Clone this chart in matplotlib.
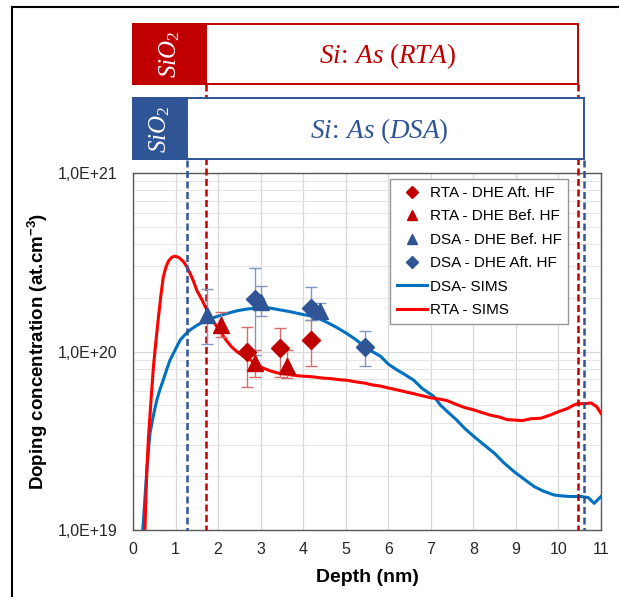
import matplotlib
matplotlib.use("Agg")
import matplotlib.pyplot as plt
from matplotlib.lines import Line2D
from matplotlib.patches import Rectangle
from matplotlib.ticker import FixedLocator, LogLocator, NullFormatter
import matplotlib.transforms as mtransforms

plt.rcParams['font.family'] = ['Liberation Sans', 'DejaVu Sans']
plt.rcParams['mathtext.fontset'] = 'custom'
plt.rcParams['mathtext.rm'] = 'Liberation Serif'
plt.rcParams['mathtext.it'] = 'Liberation Serif:italic'
plt.rcParams['mathtext.bf'] = 'Liberation Sans:bold'

# SIMS profiles (depth in nm, concentration in at/cm3)
rta_sims_x = [0.28, 0.32, 0.36, 0.42, 0.48, 0.54, 0.60, 0.66, 0.71, 0.77, 0.83, 0.90, 0.97,
              1.03, 1.10, 1.19, 1.27, 1.34, 1.42, 1.50, 1.62, 1.74, 1.85, 1.97, 2.09, 2.21,
              2.32, 2.44, 2.60, 2.76, 2.92, 3.07, 3.22, 3.38, 3.55, 3.70, 3.90, 4.10, 4.25,
              4.45, 4.65, 4.85, 5.03, 5.25, 5.45, 5.62, 5.82, 6.00, 6.20, 6.40, 6.60, 6.80,
              7.00, 7.23, 7.39, 7.60, 7.80, 8.02, 8.20, 8.40, 8.60, 8.80, 8.96, 9.15, 9.35,
              9.59, 9.80, 10.00, 10.22, 10.35, 10.45, 10.60, 10.77, 10.90, 11.0]
rta_sims_y = [1.0e19, 2.0e19, 3.2e19, 5.2e19, 8.2e19, 1.15e20, 1.57e20, 2.1e20, 2.6e20, 2.95e20,
              3.2e20, 3.35e20, 3.42e20, 3.4e20, 3.33e20, 3.18e20, 2.97e20, 2.74e20, 2.48e20,
              2.2e20, 1.95e20, 1.7e20, 1.52e20, 1.38e20, 1.25e20, 1.14e20, 1.06e20, 1.0e20,
              9.4e19, 8.96e19, 8.4e19, 8.05e19, 7.8e19, 7.6e19, 7.5e19, 7.4e19, 7.3e19,
              7.25e19, 7.2e19, 7.1e19, 7.05e19, 6.95e19, 6.9e19, 6.75e19, 6.65e19, 6.5e19,
              6.4e19, 6.25e19, 6.1e19, 5.95e19, 5.8e19, 5.65e19, 5.5e19, 5.4e19, 5.3e19,
              5.05e19, 4.85e19, 4.7e19, 4.55e19, 4.4e19, 4.3e19, 4.15e19, 4.13e19, 4.1e19,
              4.2e19, 4.23e19, 4.4e19, 4.6e19, 4.8e19, 5.0e19, 5.1e19, 5.1e19, 5.15e19,
              4.9e19, 4.5e19]

dsa_sims_x = [0.23, 0.28, 0.32, 0.36, 0.40, 0.48, 0.56, 0.64, 0.71, 0.79, 0.87, 0.99, 1.11,
              1.22, 1.34, 1.50, 1.66, 1.80, 1.97, 2.20, 2.44, 2.68, 2.91, 3.07, 3.23, 3.46,
              3.70, 3.95, 4.25, 4.50, 4.75, 5.03, 5.25, 5.45, 5.62, 5.82, 6.00, 6.20, 6.40,
              6.60, 6.80, 7.07, 7.23, 7.39, 7.60, 7.80, 8.02, 8.25, 8.49, 8.70, 8.96, 9.20,
              9.43, 9.65, 9.90, 10.10, 10.30, 10.53, 10.70, 10.84, 10.95, 11.0]
dsa_sims_y = [1.0e19, 1.5e19, 2.08e19, 2.75e19, 3.48e19, 4.4e19, 5.35e19, 6.2e19, 6.9e19,
              7.9e19, 8.95e19, 1.02e20, 1.16e20, 1.24e20, 1.32e20, 1.4e20, 1.47e20, 1.52e20,
              1.57e20, 1.63e20, 1.69e20, 1.73e20, 1.75e20, 1.76e20, 1.75e20, 1.71e20, 1.67e20,
              1.62e20, 1.57e20, 1.48e20, 1.38e20, 1.26e20, 1.16e20, 1.06e20, 1.0e20, 9.4e19,
              8.5e19, 7.9e19, 7.4e19, 6.9e19, 6.2e19, 5.6e19, 5.0e19, 4.6e19, 4.15e19, 3.7e19,
              3.33e19, 3.0e19, 2.7e19, 2.4e19, 2.12e19, 1.92e19, 1.75e19, 1.65e19, 1.57e19,
              1.55e19, 1.54e19, 1.54e19, 1.52e19, 1.41e19, 1.5e19, 1.54e19]

# DHE points with error bar ends
rta_aft_x = [2.69, 3.46, 4.19]
rta_aft_y = [1.0e20, 1.05e20, 1.16e20]
rta_aft_lo = [6.3e19, 7.2e19, 8.3e19]
rta_aft_hi = [1.38e20, 1.35e20, 1.5e20]

rta_bef_x = [2.06, 2.87, 3.62]
rta_bef_y = [1.41e20, 8.6e19, 8.3e19]
rta_bef_lo = [1.2e20, 7.2e19, 7.1e19]
rta_bef_hi = [1.66e20, 1.02e20, 1.02e20]

dsa_bef_x = [1.74, 3.01, 4.39]
dsa_bef_y = [1.6e20, 1.9e20, 1.69e20]
dsa_bef_lo = [1.1e20, 1.58e20, 1.53e20]
dsa_bef_hi = [2.24e20, 2.33e20, 1.87e20]

dsa_aft_x = [2.87, 4.19, 5.46]
dsa_aft_y = [1.96e20, 1.75e20, 1.06e20]
dsa_aft_lo = [9.6e19, 1.5e20, 8.3e19]
dsa_aft_hi = [2.95e20, 2.29e20, 1.31e20]

# layer boundaries (nm)
rta_oxide_end, rta_si_end = 1.72, 10.46
dsa_oxide_end, dsa_si_end = 1.26, 10.60

W, H = 619, 597
RED = '#C00000'
BLUE = '#2F5597'


def fy(py):
    return 1 - py / H


fig = plt.figure(figsize=(W / 100, H / 100), dpi=100)
ax = fig.add_axes([133 / W, fy(530), 468 / W, 357 / H])

ax.set_xlim(0, 11)
ax.set_ylim(1e19, 1e21)
ax.set_yscale('log')

# SIMS curves
l_dsa, = ax.plot(dsa_sims_x, dsa_sims_y, color='#0070C0', lw=2.2, label='DSA- SIMS', zorder=3)
l_rta, = ax.plot(rta_sims_x, rta_sims_y, color='#FF0000', lw=2.2, label='RTA - SIMS', zorder=3)


def err(y, lo, hi):
    return [[v - l for v, l in zip(y, lo)], [h - v for v, h in zip(y, hi)]]


ax.errorbar(rta_aft_x, rta_aft_y, yerr=err(rta_aft_y, rta_aft_lo, rta_aft_hi), fmt='none',
            ecolor='#D76B6B', elinewidth=1, capsize=4, capthick=1, zorder=5)
ax.errorbar(rta_bef_x, rta_bef_y, yerr=err(rta_bef_y, rta_bef_lo, rta_bef_hi), fmt='none',
            ecolor='#D76B6B', elinewidth=1, capsize=4, capthick=1, zorder=5)
ax.errorbar(dsa_bef_x, dsa_bef_y, yerr=err(dsa_bef_y, dsa_bef_lo, dsa_bef_hi), fmt='none',
            ecolor='#8096C4', elinewidth=1, capsize=4, capthick=1, zorder=5)
ax.errorbar(dsa_aft_x, dsa_aft_y, yerr=err(dsa_aft_y, dsa_aft_lo, dsa_aft_hi), fmt='none',
            ecolor='#8096C4', elinewidth=1, capsize=4, capthick=1, zorder=5)

h1, = ax.plot(rta_aft_x, rta_aft_y, ls='none', marker='D', ms=9, color=RED,
              label='RTA - DHE Aft. HF', zorder=6)
h2, = ax.plot(rta_bef_x, rta_bef_y, ls='none', marker='^', ms=11, color=RED,
              label='RTA - DHE Bef. HF', zorder=6)
h3, = ax.plot(dsa_bef_x, dsa_bef_y, ls='none', marker='^', ms=11, color=BLUE,
              label='DSA - DHE Bef. HF', zorder=6)
h4, = ax.plot(dsa_aft_x, dsa_aft_y, ls='none', marker='D', ms=9, color=BLUE,
              label='DSA - DHE Aft. HF', zorder=6)

# axes styling
ax.set_xticks(range(0, 12))
ax.yaxis.set_major_locator(FixedLocator([1e19, 1e20, 1e21]))
ax.set_yticklabels(['1,0E+19', '1,0E+20', '1,0E+21'])
ax.yaxis.set_minor_locator(LogLocator(base=10, subs=range(2, 10)))
ax.yaxis.set_minor_formatter(NullFormatter())
ax.tick_params(which='both', length=0, labelsize=11.5, labelcolor='#262626')
ax.tick_params(axis='y', pad=11)
ax.tick_params(axis='x', pad=9)
ax.grid(True, which='major', color='#D9D9D9', lw=0.9, zorder=0)
ax.grid(True, which='minor', axis='y', color='#E6E6E6', lw=0.8, zorder=0)
ax.set_axisbelow(True)
for s in ax.spines.values():
    s.set_color('#595959')
    s.set_linewidth(1.0)

ax.set_xlabel('Depth (nm)', fontsize=14, fontweight='bold')
ax.set_ylabel(r'Doping concentration (at.cm$\mathbf{^{-3}}$)', fontsize=13.5, fontweight='bold')
ax.xaxis.set_label_coords(0.5, -(577 - 530) / 357)
ax.xaxis.label.set_va('center')
ax.yaxis.set_label_coords(-(133 - 38) / 468, 0.5)
ax.yaxis.label.set_va('center')

leg = ax.legend(handles=[h1, h2, h3, h4, l_dsa, l_rta], fontsize=11,
                loc='upper left', bbox_to_anchor=(0.549, 0.983), borderaxespad=0,
                markerscale=0.65, handlelength=2.0, handletextpad=0.15,
                labelspacing=0.62, borderpad=0.45, fancybox=False, framealpha=1,
                edgecolor='#969696')
leg.get_frame().set_linewidth(1.0)
leg.set_zorder(10)

# layer sketch above the plot
trans = mtransforms.blended_transform_factory(ax.transData, fig.transFigure)

for xv in [rta_oxide_end, rta_si_end]:
    ax.plot([xv, xv], [fy(84), fy(530)], transform=trans, clip_on=False, color=RED,
            lw=1.8, ls=(0, (2.8, 1.4)), zorder=4)
for xv in [dsa_oxide_end, dsa_si_end]:
    ax.plot([xv, xv], [fy(160), fy(530)], transform=trans, clip_on=False, color=BLUE,
            lw=1.8, ls=(0, (2.8, 1.4)), zorder=4)

ax.add_patch(Rectangle((0, fy(84)), rta_si_end, fy(24) - fy(84), transform=trans,
                       facecolor='white', edgecolor=RED, lw=1.4, clip_on=False, zorder=7))
ax.add_patch(Rectangle((0, fy(84)), rta_oxide_end, fy(24) - fy(84), transform=trans,
                       facecolor=RED, edgecolor=RED, lw=1.4, clip_on=False, zorder=8))
ax.add_patch(Rectangle((0, fy(159)), dsa_si_end, fy(98) - fy(159), transform=trans,
                       facecolor='white', edgecolor=BLUE, lw=1.4, clip_on=False, zorder=7))
ax.add_patch(Rectangle((0, fy(159)), dsa_oxide_end, fy(98) - fy(159), transform=trans,
                       facecolor=BLUE, edgecolor=BLUE, lw=1.4, clip_on=False, zorder=8))

ax.text(5.99, fy(56), r'$Si\!:\!\ As\ (RTA)$', transform=trans, fontsize=19.5, color=RED,
        ha='center', va='center', zorder=9)
ax.text(5.8, fy(131), r'$Si\!:\!\ As\ (DSA)$', transform=trans, fontsize=19.5, color=BLUE,
        ha='center', va='center', zorder=9)
ax.text(0.87, fy(54), r'$SiO_2$', transform=trans, fontsize=18, color='white', rotation=90,
        ha='center', va='center', zorder=9)
ax.text(0.63, fy(129), r'$SiO_2$', transform=trans, fontsize=18, color='white', rotation=90,
        ha='center', va='center', zorder=9)

# outer frame
fig.add_artist(Line2D([12 / W, 12 / W], [0, fy(6.5)], color='black', lw=1.5))
fig.add_artist(Line2D([12 / W, 1], [fy(6.5), fy(6.5)], color='black', lw=1.5))

fig.savefig('out.png', dpi=100)
